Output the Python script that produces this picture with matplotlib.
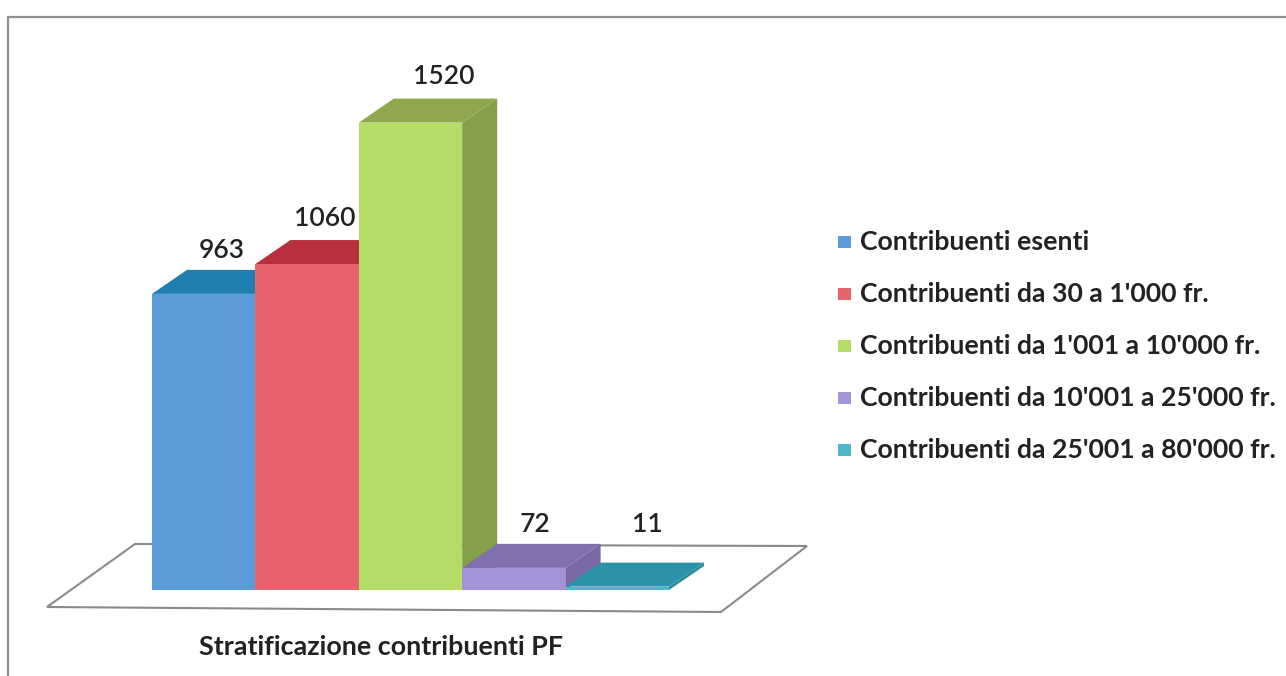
import matplotlib
matplotlib.use('Agg')
import matplotlib.pyplot as plt
from matplotlib.patches import Polygon

plt.rcParams['font.family'] = ['Lato', 'DejaVu Sans']

categories = ['Contribuenti esenti', "Contribuenti da 30 a 1'000 fr.",
	"Contribuenti da 1'001 a 10'000 fr.", "Contribuenti da 10'001 a 25'000 fr.",
	"Contribuenti da 25'001 a 80'000 fr."]
values = [963, 1060, 1520, 72, 11]
title = 'Stratificazione contribuenti PF'

frontColors = ['#5b9bd8', '#e8636b', '#b5dc66', '#a292d6', '#4db8cc']
topColors = ['#1f7fb0', '#b8303f', '#8fa84e', '#8270ae', '#2a93a8']
sideColors = ['#2a6a98', '#a03040', '#84a04a', '#7a68a4', '#2a8a98']

# everything is laid out in reference pixels
W, H = 1286, 676
BASE = 590
LEFT = 152
BAR_W = 103.4
PX_PER_UNIT = 0.3075
DX, DY = 35, 24

fig = plt.figure(figsize=(W / 100, H / 100), dpi=100, facecolor='white')
ax = fig.add_axes([0, 0, 1, 1])
ax.set_xlim(0, W)
ax.set_ylim(H, 0)
ax.axis('off')

# page frame
ax.plot([8, 8, W], [H, 17, 17], color='#8f8f8f', lw=1.6)

# floor
ax.add_patch(Polygon([(47, 607), (135, 544), (807, 546), (721, 612)], closed=True,
	facecolor='white', edgecolor='#8a8a8a', lw=1.5))

labelPos = [(222, 250), (325, 219), (444, 77), (535, 525), (647, 525)]
for i, v in enumerate(values):
	x0 = LEFT + i * BAR_W
	x1 = x0 + BAR_W
	top = BASE - v * PX_PER_UNIT
	ax.add_patch(Polygon([(x1, BASE), (x1 + DX, BASE - DY), (x1 + DX, top - DY), (x1, top)],
		closed=True, facecolor=sideColors[i], edgecolor='none', zorder=2 + i))
	ax.add_patch(Polygon([(x0, top), (x0 + DX, top - DY), (x1 + DX, top - DY), (x1, top)],
		closed=True, facecolor=topColors[i], edgecolor='none', zorder=2 + i))
	ax.add_patch(Polygon([(x0, BASE), (x0, top), (x1, top), (x1, BASE)],
		closed=True, facecolor=frontColors[i], edgecolor='none', zorder=2 + i))
	ax.text(labelPos[i][0], labelPos[i][1], str(v), ha='center', va='center',
		fontsize=19, fontweight='semibold', color='#222222', zorder=10)

# legend
legendY = [241, 293, 345, 397, 449]
for name, y, c in zip(categories, legendY, frontColors):
	ax.add_patch(Polygon([(838, y - 5), (851, y - 5), (851, y + 7), (838, y + 7)],
		closed=True, facecolor=c, edgecolor='none'))
	ax.text(860, y + 1, name, ha='left', va='center', fontsize=19.2,
		fontweight='bold', color='#222222')

ax.text(381, 647, title, ha='center', va='center', fontsize=19.4,
	fontweight='bold', color='#222222')

fig.savefig('out.png', dpi=100, facecolor=fig.get_facecolor())
